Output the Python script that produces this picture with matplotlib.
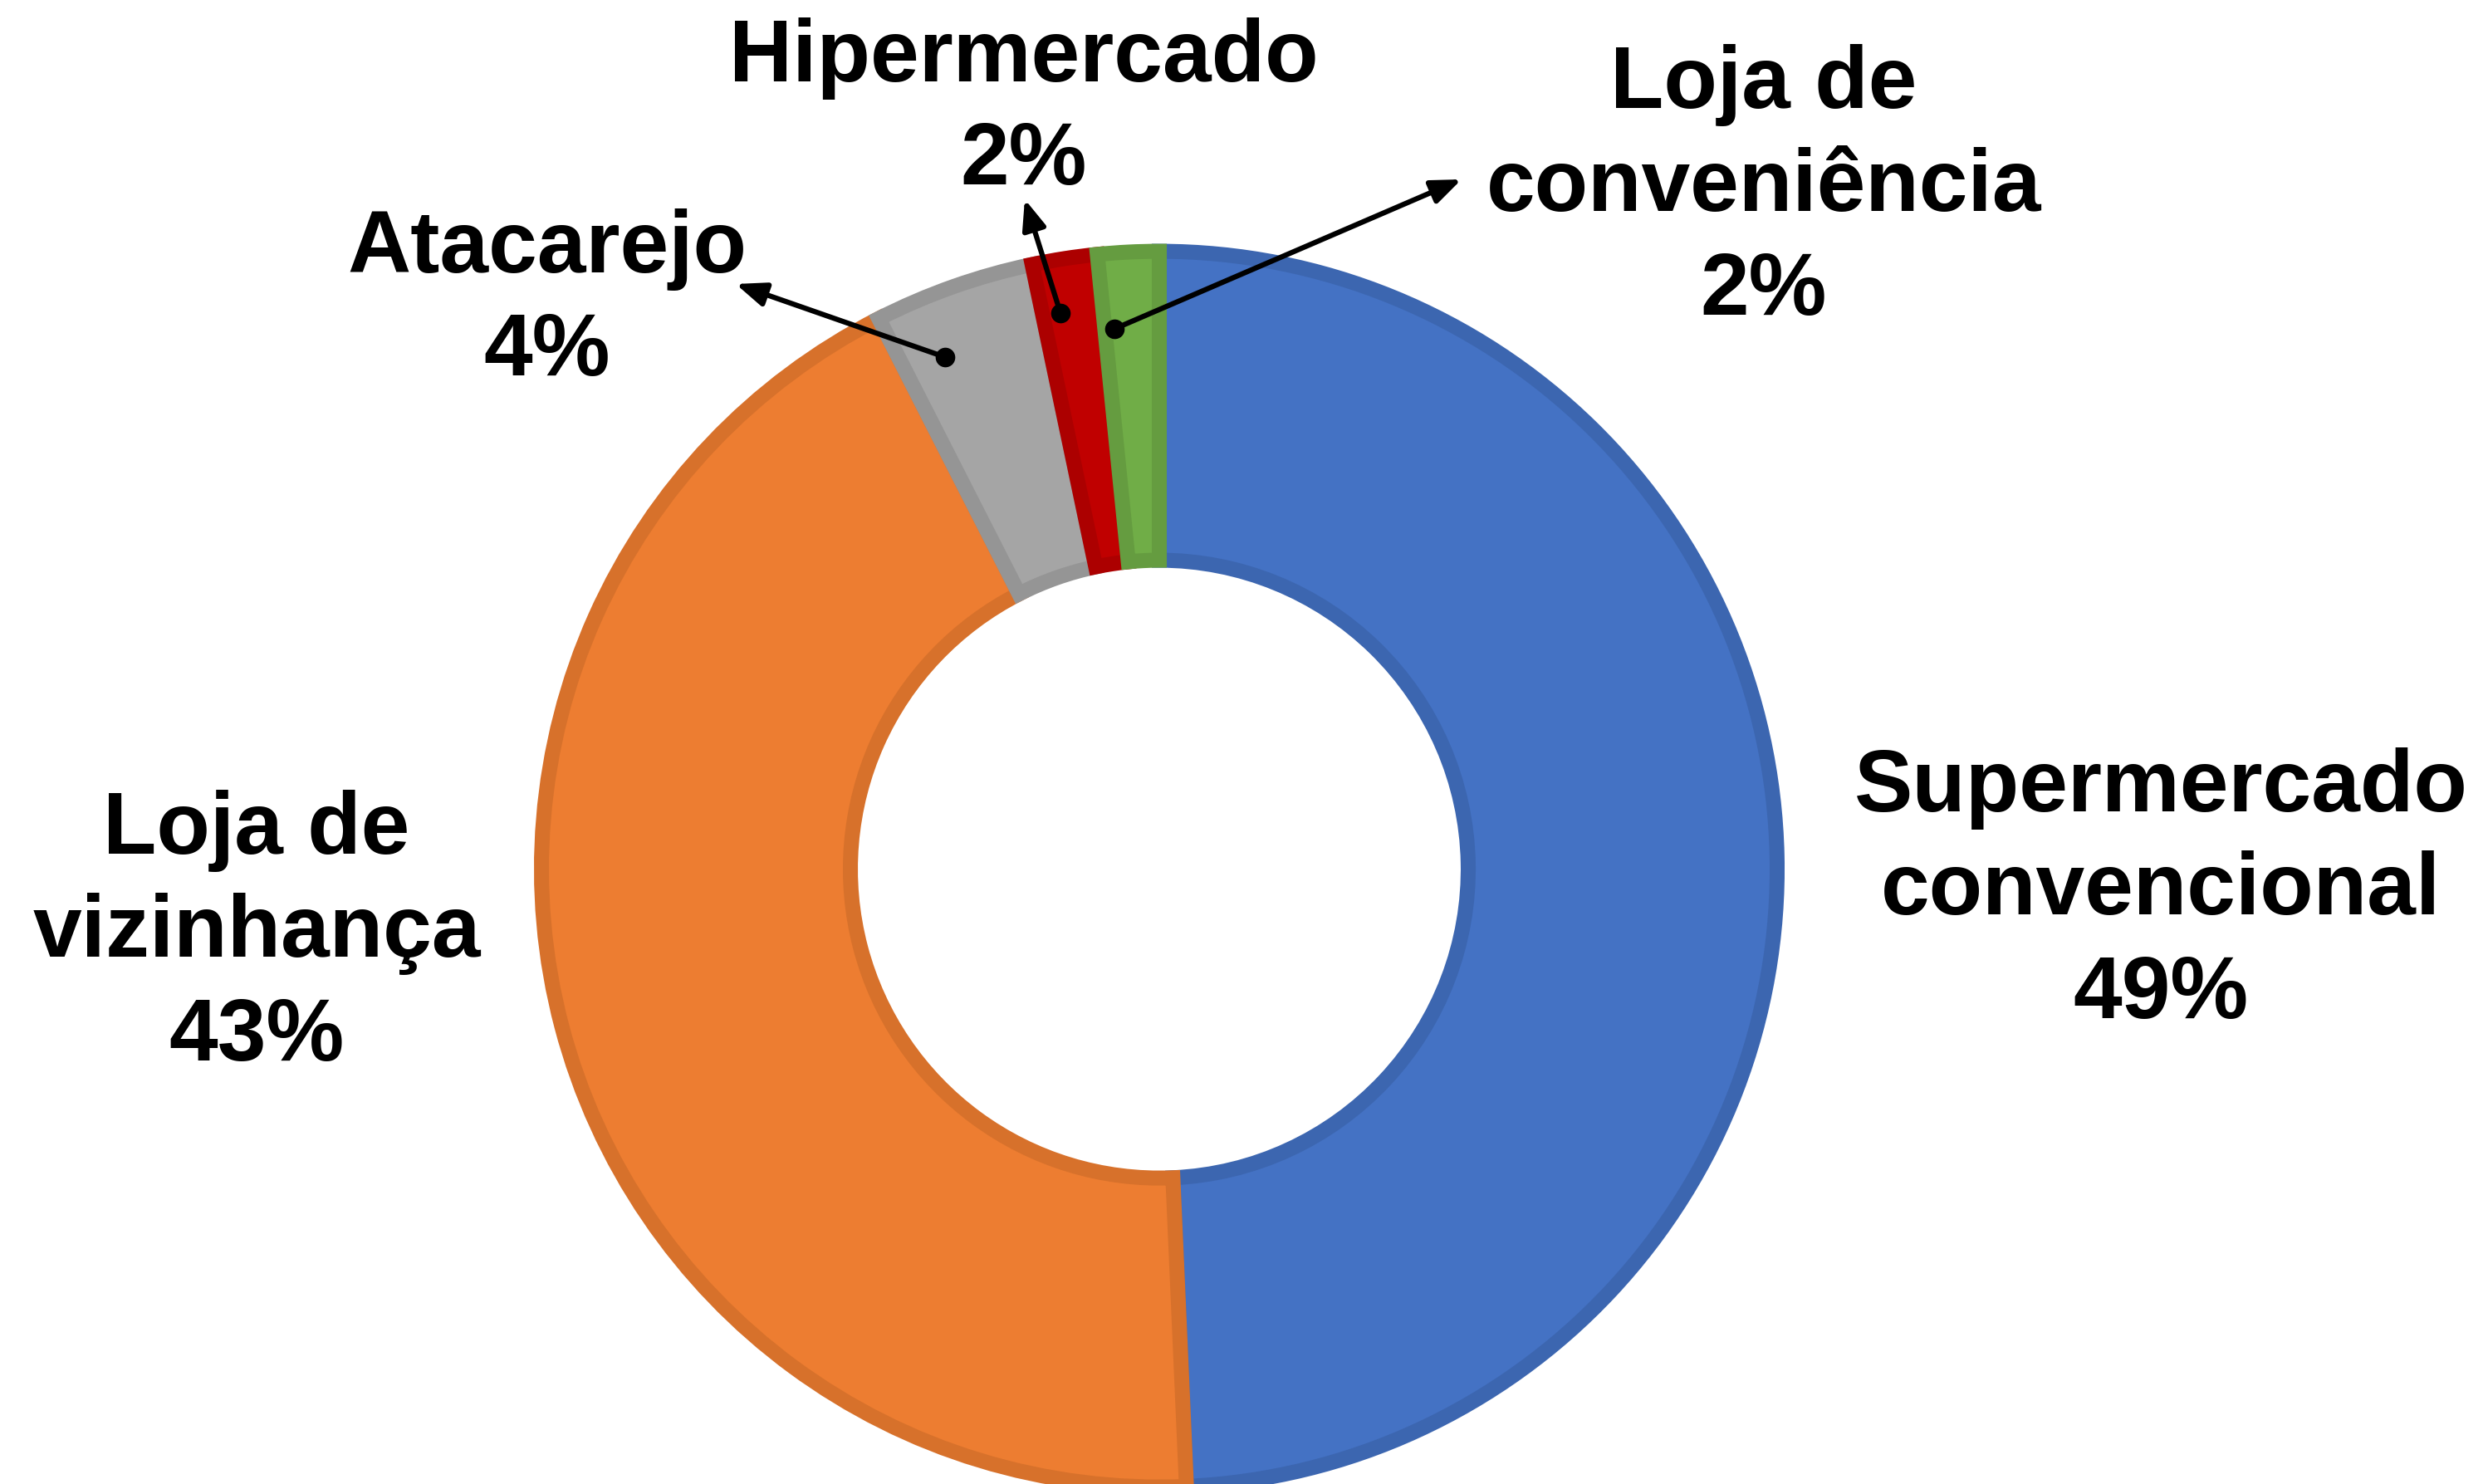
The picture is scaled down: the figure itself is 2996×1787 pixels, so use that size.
import matplotlib
matplotlib.use('Agg')
from matplotlib import pyplot as plt

# shares of each store format (percent)
categories = ['Supermercado\nconvencional', 'Loja de\nvizinhança', 'Atacarejo',
              'Hipermercado', 'Loja de\nconveniência']
shares = [49.3, 43.2, 4.2, 1.7, 1.6]
colors = ['#4472C4', '#ED7D31', '#A5A5A5', '#C00000', '#70AD47']
edge_colors = ['#3C66B0', '#D7712B', '#959595', '#AC0000', '#659C40']

W, H = 2996, 1787
# label anchor (centre x, top y) in image pixels, y measured from the top
label_pos = [(2602, 900), (309, 951), (659, 251), (1233, 21), (2124, 53)]
# arrows for the small slices: (dot, tip) in image pixels
arrows = {2: ((1138, 430), (886, 342)),
          3: ((1277, 377), (1234, 240)),
          4: ((1342, 396), (1760, 216))}

plt.rcParams['font.family'] = ['Liberation Sans', 'DejaVu Sans']

fig = plt.figure(figsize=(W / 100, H / 100), dpi=100)
ax = fig.add_axes([0, 0, 1, 1])

wedges, _ = ax.pie(shares, colors=colors, startangle=90, counterclock=False,
                   center=(1396, H - 1046.6), radius=744,
                   wedgeprops=dict(width=372, linewidth=13))
for w, ec in zip(wedges, edge_colors):
    w.set_edgecolor(ec)
    w.set_clip_path(w)  # keep the border inside each slice

for name, v, (x, y) in zip(categories, shares, label_pos):
    ax.text(x, H - y, f"{name}\n{round(v):.0f}%", ha='center', va='top',
            fontsize=76, fontweight='bold', linespacing=1.33)

for i, ((dx, dy), (tx, ty)) in arrows.items():
    ax.annotate('', xy=(tx, H - ty), xytext=(dx, H - dy),
                arrowprops=dict(arrowstyle='-|>,head_length=0.6,head_width=0.24',
                                mutation_scale=36, lw=4.5, color='black',
                                shrinkA=0, shrinkB=0))
    ax.plot(dx, H - dy, 'o', color='black', ms=16)

ax.set_xlim(0, W)
ax.set_ylim(0, H)
ax.set_aspect('equal')
ax.axis('off')

fig.savefig('out.png', dpi=100, facecolor='white')
